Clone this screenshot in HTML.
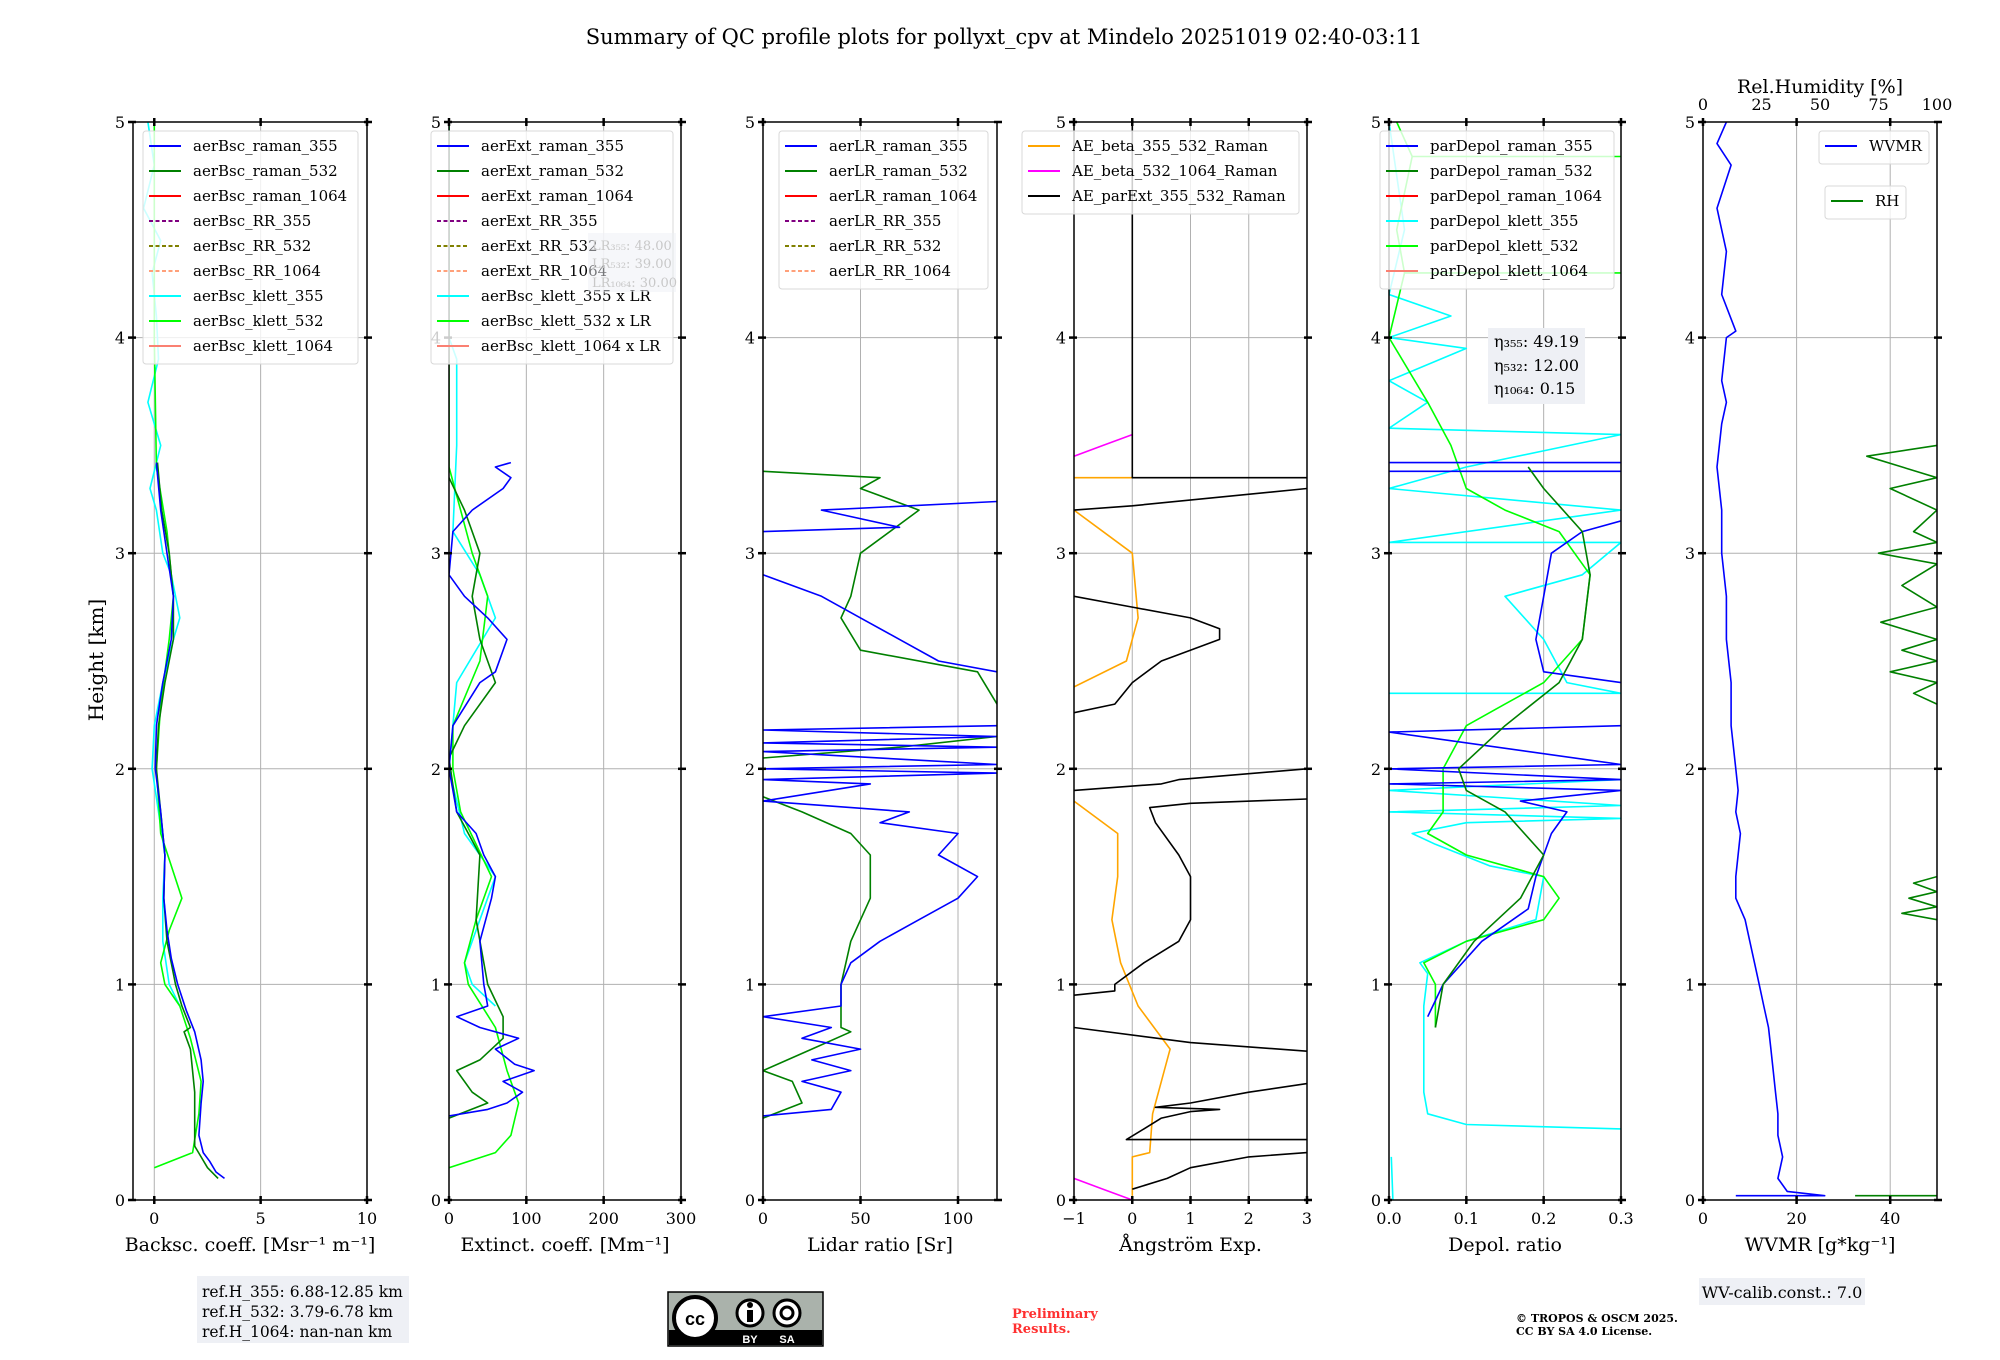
<!DOCTYPE html>
<html><head><meta charset="utf-8">
<style>
html,body{margin:0;padding:0;background:#fff;}
svg{display:block;font-family:"DejaVu Serif","Liberation Serif",serif;}
</style></head>
<body>
<svg id="fig" width="2000" height="1360" viewBox="0 0 2000 1360" xmlns="http://www.w3.org/2000/svg">
<rect width="2000" height="1360" fill="#fff"/>
<text x="1004" y="44" font-size="21" text-anchor="middle">Summary of QC profile plots for pollyxt_cpv at Mindelo 20251019 02:40-03:11</text>
<text transform="translate(103,660) rotate(-90)" font-size="20" text-anchor="middle">Height [km]</text>
<g id="plots"></g>
<g>
<rect x="197" y="1276" width="212" height="67" fill="#eef0f5"/>
<text x="202" y="1297" font-size="15.5">ref.H_355: 6.88-12.85 km</text>
<text x="202" y="1317" font-size="15.5">ref.H_532: 3.79-6.78 km</text>
<text x="202" y="1337" font-size="15.5">ref.H_1064: nan-nan km</text>
</g>
<g>
<rect x="668" y="1292" width="155" height="54" fill="#aab2ab" stroke="#000" stroke-width="1.5"/>
<rect x="669" y="1330" width="153" height="15" fill="#000"/>
<circle cx="695" cy="1318" r="21" fill="#fff" stroke="#000" stroke-width="4"/>
<text x="695" y="1325" font-size="18" font-weight="bold" text-anchor="middle" font-family="Liberation Sans, sans-serif">cc</text>
<circle cx="750" cy="1313" r="13" fill="#fff" stroke="#000" stroke-width="3"/>
<rect x="747" y="1310" width="6" height="12" fill="#000"/><circle cx="750" cy="1305" r="3" fill="#000"/>
<circle cx="787" cy="1313" r="13" fill="#fff" stroke="#000" stroke-width="3"/>
<circle cx="787" cy="1313" r="6" fill="none" stroke="#000" stroke-width="3"/>
<text x="750" y="1343" font-size="11" fill="#fff" font-weight="bold" text-anchor="middle" font-family="Liberation Sans, sans-serif">BY</text>
<text x="787" y="1343" font-size="11" fill="#fff" font-weight="bold" text-anchor="middle" font-family="Liberation Sans, sans-serif">SA</text>
</g>
<text x="1012" y="1318" font-size="13" font-weight="bold" fill="#ff3030">Preliminary</text>
<text x="1012" y="1333" font-size="13" font-weight="bold" fill="#ff3030">Results.</text>
<text x="1516" y="1322" font-size="11" font-weight="bold">© TROPOS &amp; OSCM 2025.</text>
<text x="1516" y="1335" font-size="11" font-weight="bold">CC BY SA 4.0 License.</text>
<g>
<rect x="1699" y="1278" width="166" height="27" fill="#eef0f5"/>
<text x="1782" y="1298" font-size="16" text-anchor="middle">WV-calib.const.: 7.0</text>
</g>
</svg>
<script>
// ---------- data (value, height km); null = gap ----------
const yTicks=[0,1,2,3,4,5];
const bscTicks=[0,5,10];
const extTicks=[0,100,200,300];
const lrTicks=[0,50,100];
const aeTicks=[-1,0,1,2,3];
const aeTickLabels=["\u22121","0","1","2","3"];
const depTicks=[0,0.1,0.2,0.3];
const depTickLabels=["0.0","0.1","0.2","0.3"];
const wvTicks=[0,20,40];
const rhTicks=[0,25,50,75,100];

const bscRaman355=[[3.3,0.1],[2.9,0.13],[2.6,0.18],[2.3,0.22],[2.1,0.3],[2.2,0.45],[2.3,0.55],[2.2,0.65],[1.9,0.78],[1.5,0.88],[1.1,1.0],[0.8,1.12],[0.6,1.25],[0.45,1.4],[0.5,1.6],[0.3,1.8],[0.05,2.0],[0.1,2.2],[0.4,2.4],[0.8,2.6],[0.9,2.8],[0.6,3.0],[0.3,3.2],[0.1,3.42]];
const bscRaman532=[[3.0,0.1],[2.5,0.15],[2.2,0.2],[1.9,0.25],[1.9,0.5],[1.7,0.7],[1.4,0.78],[1.7,0.8],[1.3,0.9],[1.0,1.0],[0.6,1.2],[0.45,1.4],[0.5,1.6],[0.3,1.8],[0.1,2.0],[0.2,2.2],[0.5,2.4],[0.9,2.6],[0.9,2.8],[0.7,3.0],[0.35,3.2],[0.15,3.42]];
const bscKlett355=[[1.2,0.9],[0.7,1.0],[0.4,1.2],[0.4,1.4],[0.5,1.6],[0.2,1.8],[-0.1,2.0],[0.0,2.2],[0.4,2.4],[0.9,2.6],[1.2,2.7],[0.8,2.9],[0.4,3.0],[0.1,3.2],[-0.2,3.3],[0.3,3.5],[-0.3,3.7],[0.2,3.9],[0.1,4.1],[-0.1,4.3],[0.3,4.45],[-0.5,4.6],[0.0,4.8],[-0.3,5.0]];
const bscKlett532=[[0,0.15],[1.8,0.22],[2.1,0.4],[2.2,0.55],[1.7,0.75],[1.2,0.9],[0.5,1.0],[0.3,1.1],[0.7,1.25],[1.3,1.4],[0.9,1.52],[0.3,1.7],[0.1,2.0],[0.3,2.3],[0.7,2.6],[0.9,2.8],[0.6,3.1],[0.1,3.4],[0.0,4.0],[0.0,5.0]];

const extRaman355=[[0,0.39],[50,0.42],[75,0.45],[95,0.5],[70,0.55],[110,0.6],[85,0.63],[60,0.7],[90,0.75],[40,0.8],[10,0.85],[50,0.9],[45,1.0],[40,1.2],[55,1.4],[60,1.5],[45,1.6],[35,1.7],[10,1.8],[5,1.9],[0,2.0],[5,2.2],[40,2.4],[60,2.45],[75,2.6],[50,2.7],[20,2.8],[0,2.9],[5,3.1],[30,3.2],[70,3.3],[80,3.35],[60,3.4],[80,3.42]];
const extRaman532=[[0,0.38],[50,0.45],[30,0.5],[10,0.6],[40,0.65],[70,0.75],[70,0.85],[50,1.0],[35,1.3],[40,1.6],[10,1.8],[0,2.05],[20,2.2],[60,2.4],[40,2.6],[30,2.8],[40,3.0],[20,3.2],[0,3.35]];
const extKlett355=[[60,0.9],[30,1.0],[20,1.1],[40,1.3],[60,1.5],[20,1.7],[0,2.0],[10,2.4],[60,2.7],[40,2.9],[5,3.1],[10,3.5],[10,3.9],[0,4.0],[0,5.0]];
const extKlett532=[[0,0.15],[60,0.22],[80,0.3],[90,0.45],[75,0.6],[60,0.8],[25,1.0],[20,1.1],[35,1.3],[55,1.5],[15,1.8],[5,2.0],[5,2.2],[40,2.5],[50,2.8],[30,3.0],[0,3.4],[0,5.0]];

const lrRaman355=[[0,0.39],[35,0.42],[40,0.5],[20,0.55],[45,0.6],[25,0.65],[50,0.7],[20,0.75],[35,0.8],[0,0.85],[40,0.9],[40,1.0],[45,1.1],[60,1.2],[80,1.3],[100,1.4],[110,1.5],[90,1.6],[100,1.7],[60,1.75],[75,1.8],[0,1.85],[55,1.93],[0,1.95],[120,1.98],[0,2.0],[120,2.02],[0,2.08],[120,2.1],[0,2.12],[120,2.15],[0,2.18],[120,2.2],null,[120,2.45],[90,2.5],[70,2.6],[50,2.7],[30,2.8],[0,2.9],null,[0,3.1],[70,3.12],[30,3.2],[120,3.24]];
const lrRaman532=[[0,0.38],[20,0.45],[15,0.55],[0,0.6],[25,0.7],[45,0.78],[40,0.8],[40,1.0],[45,1.2],[55,1.4],[55,1.6],[45,1.7],[20,1.8],[0,1.87],null,[0,2.05],[70,2.1],[120,2.15],null,[120,2.3],[110,2.45],[50,2.55],[40,2.7],[45,2.8],[50,3.0],[80,3.2],[50,3.3],[60,3.35],[0,3.38]];

const aeBeta355532=[[0,0.02],[0,0.2],[0.3,0.22],[0.35,0.4],[0.65,0.7],[0.1,0.9],[-0.2,1.1],[-0.35,1.3],[-0.25,1.5],[-0.25,1.7],[-1,1.85],null,[-1,2.38],[-0.1,2.5],[0.1,2.7],[0,3.0],[-1,3.2],null,[-1,3.35],[0,3.35]];
const aeBeta5321064=[[0,0],[-0.5,0.05],[-1,0.1],null,[-1,3.45],[-0.5,3.5],[0,3.55]];
const aeParExt=[[0,0.05],[0.6,0.1],[1,0.15],[2,0.2],[3,0.22],null,[3,0.28],[-0.1,0.28],[0.2,0.33],[0.5,0.38],[1.0,0.41],[1.5,0.42],[0.4,0.43],[1.0,0.45],[2.0,0.5],[3,0.54],null,[3,0.69],[1,0.73],[-1,0.8],null,[-1,0.95],[-0.3,0.97],[-0.3,1.0],[0.2,1.1],[0.8,1.2],[1.0,1.3],[1.0,1.5],[0.8,1.6],[0.4,1.75],[0.3,1.82],[1,1.84],[3,1.86],null,[-1,1.9],[0.5,1.93],[0.8,1.95],[3,2.0],null,[-1,2.26],[-0.3,2.3],[0,2.4],[0.5,2.5],[1.5,2.6],[1.5,2.65],[1,2.7],[0,2.75],[-1,2.8],null,[-1,3.2],[0,3.22],[3,3.3],null,[3,3.35],[0,3.35],[0,5.0]];

const depRaman355=[[0.05,0.85],[0.07,1.0],[0.12,1.2],[0.18,1.35],[0.19,1.5],[0.21,1.7],[0.23,1.8],[0.17,1.85],[0.3,1.9],[0,1.93],[0.3,1.95],[0,2.0],[0.3,2.02],[0,2.17],[0.3,2.2],null,[0.3,2.4],[0.2,2.45],[0.19,2.6],[0.2,2.8],[0.21,3.0],[0.25,3.1],[0.3,3.15],null,[0,3.38],[0.3,3.38],null,[0,3.42],[0.3,3.42]];
const depRaman532=[[0.06,0.8],[0.07,1.0],[0.11,1.2],[0.17,1.4],[0.2,1.6],[0.15,1.8],[0.1,1.9],[0.09,2.0],[0.15,2.2],[0.22,2.4],[0.25,2.6],[0.26,2.9],[0.25,3.1],[0.2,3.3],[0.18,3.4]];
const depKlett355=[[0.005,0],[0.003,0.2],null,[0.3,0.33],[0.1,0.35],[0.05,0.4],[0.045,0.5],[0.045,0.9],[0.05,1.05],[0.04,1.1],[0.1,1.2],[0.19,1.3],[0.2,1.5],[0.13,1.55],[0.06,1.65],[0.03,1.7],[0.1,1.75],[0.3,1.77],[0,1.8],[0.3,1.83],[0,1.9],[0.3,1.95],null,[0,2.35],[0.3,2.35],[0.23,2.4],[0.2,2.6],[0.15,2.8],[0.25,2.9],[0.3,3.05],[0,3.05],[0.3,3.2],[0,3.3],[0.1,3.4],[0.3,3.55],[0,3.58],[0.05,3.7],[0,3.8],[0.1,3.95],[0,4.0],[0.08,4.1],[0,4.2],[0.02,4.5],[0,5.0]];
const depKlett532=[[0.06,0.8],[0.06,1.0],[0.045,1.1],[0.1,1.2],[0.2,1.3],[0.22,1.4],[0.2,1.5],[0.1,1.6],[0.05,1.7],[0.07,1.8],[0.07,2.0],[0.1,2.2],[0.15,2.3],[0.2,2.4],[0.25,2.6],[0.26,2.9],[0.22,3.1],[0.15,3.2],[0.1,3.3],[0.08,3.5],[0.05,3.7],[0.0,4.0],[0.02,4.3],[0.3,4.3],[0.02,4.3],[0.01,4.5],[0.03,4.84],[0.3,4.84],[0.03,4.84],[0.01,5.0]];

const wvmr=[[7,0.02],[26,0.02],[18,0.04],[16,0.1],[17,0.2],[16,0.3],[16,0.4],[15.5,0.5],[15,0.6],[14.5,0.7],[14,0.8],[13,0.9],[12,1.0],[11,1.1],[10,1.2],[9,1.3],[7,1.4],[7,1.5],[7.5,1.6],[8,1.7],[7,1.8],[7.5,1.9],[7,2.0],[6,2.2],[6,2.4],[5,2.6],[5,2.8],[4,3.0],[4,3.2],[3,3.4],[4,3.6],[5,3.7],[4,3.8],[5,4.0],[7,4.03],[4,4.2],[5,4.4],[3,4.6],[6,4.8],[3,4.9],[5,5.0]];
const rhValues=[[65,0.02],[100,0.02],null,[100,1.3],[85,1.33],[100,1.36],[88,1.4],[100,1.43],[90,1.47],[100,1.5],null,[100,2.3],[90,2.35],[100,2.4],[80,2.45],[100,2.5],[85,2.55],[100,2.6],[76,2.68],[100,2.75],[85,2.85],[100,2.95],[75,3.0],[100,3.05],[90,3.1],[100,3.2],[80,3.3],[100,3.35],[70,3.45],[100,3.5]];

// ---------- layout ----------
const Y0=1200, KM=215.6;
function yPx(h){return Y0-h*KM;}
const NS="http://www.w3.org/2000/svg";
const root=document.getElementById('plots');
function mk(tag,attrs,parent){const e=document.createElementNS(NS,tag);for(const k in attrs)e.setAttribute(k,attrs[k]);(parent||root).appendChild(e);return e;}
function xFn(p){return v=>p.x0+(v-p.min)/(p.max-p.min)*p.w;}

const panels=[
 {name:'backscatter',x0:133,w:234,min:-1,max:10,ticks:bscTicks,labels:null,label:'Backsc. coeff. [Msr\u207B\u00B9 m\u207B\u00B9]'},
 {name:'extinction',x0:449,w:232,min:0,max:300,ticks:extTicks,labels:null,label:'Extinct. coeff. [Mm\u207B\u00B9]'},
 {name:'lidar-ratio',x0:763,w:234,min:0,max:120,ticks:lrTicks,labels:null,label:'Lidar ratio [Sr]'},
 {name:'angstrom',x0:1074,w:233,min:-1,max:3,ticks:aeTicks,labels:aeTickLabels,label:'\u00C5ngstr\u00F6m Exp.'},
 {name:'depol',x0:1389,w:232,min:0,max:0.3,ticks:depTicks,labels:depTickLabels,label:'Depol. ratio'},
 {name:'wvmr',x0:1703,w:234,min:0,max:50,ticks:wvTicks,labels:null,label:'WVMR [g*kg\u207B\u00B9]'}
];

function drawSeries(g,p,data,color,name,wd){
 const X=xFn(p);let d='',pen=false;
 data.forEach(pt=>{if(!pt){pen=false;return;}d+=(pen?'L':'M')+X(pt[0]).toFixed(1)+' '+yPx(pt[1]).toFixed(1);pen=true;});
 const e=mk('path',{d:d,fill:'none',stroke:color,'stroke-width':wd||1.6,'stroke-linejoin':'round'},g);
 
 
}

panels.forEach((p,i)=>{
 const g=mk('g',{});
 
 
 const X=xFn(p);
 const cp=mk('clipPath',{id:'cp'+i},g);
 mk('rect',{x:p.x0,y:yPx(5),width:p.w,height:5*KM},cp);
 const gg=mk('g',{stroke:'#b0b0b0','stroke-width':1},g);
 
 
 p.ticks.forEach(t=>{mk('line',{x1:X(t),x2:X(t),y1:yPx(0),y2:yPx(5)},gg);});
 yTicks.forEach(t=>{mk('line',{x1:p.x0,x2:p.x0+p.w,y1:yPx(t),y2:yPx(t)},gg);});
 const sg=mk('g',{'clip-path':'url(#cp'+i+')'},g);
 
 
 if(i===0){drawSeries(sg,p,bscKlett355,'#00ffff','aerBsc-klett-355');drawSeries(sg,p,bscKlett532,'#00ff00','aerBsc-klett-532');drawSeries(sg,p,bscRaman532,'#008000','aerBsc-raman-532');drawSeries(sg,p,bscRaman355,'#0000ff','aerBsc-raman-355');}
 if(i===1){drawSeries(sg,p,extKlett355,'#00ffff','aerBsc-klett-355-lr');drawSeries(sg,p,extKlett532,'#00ff00','aerBsc-klett-532-lr');drawSeries(sg,p,extRaman532,'#008000','aerExt-raman-532');drawSeries(sg,p,extRaman355,'#0000ff','aerExt-raman-355');}
 if(i===2){drawSeries(sg,p,lrRaman532,'#008000','aerLR-raman-532');drawSeries(sg,p,lrRaman355,'#0000ff','aerLR-raman-355');}
 if(i===3){drawSeries(sg,p,aeBeta355532,'#ffa500','ae-beta-355-532');drawSeries(sg,p,aeBeta5321064,'#ff00ff','ae-beta-532-1064');drawSeries(sg,p,aeParExt,'#000000','ae-parext-355-532');}
 if(i===4){drawSeries(sg,p,depKlett355,'#00ffff','parDepol-klett-355');drawSeries(sg,p,depKlett532,'#00ff00','parDepol-klett-532');drawSeries(sg,p,depRaman355,'#0000ff','parDepol-raman-355');drawSeries(sg,p,depRaman532,'#008000','parDepol-raman-532');}
 if(i===5){drawSeries(sg,p,wvmr,'#0000ff','wvmr-line');const rp={x0:p.x0,w:p.w,min:0,max:100};drawSeries(sg,rp,rhValues,'#008000','rh-line');}
 mk('rect',{x:p.x0,y:yPx(5),width:p.w,height:5*KM,fill:'none',stroke:'#000','stroke-width':1.5},g);
 const tg=mk('g',{stroke:'#000','stroke-width':2.5},g);
 
 
 p.ticks.forEach(t=>{mk('line',{x1:X(t),x2:X(t),y1:yPx(0)-4,y2:yPx(0)+4},tg);mk('line',{x1:X(t),x2:X(t),y1:yPx(5)-4,y2:yPx(5)+4},tg);});
 yTicks.forEach(t=>{mk('line',{x1:p.x0-5,x2:p.x0+3,y1:yPx(t),y2:yPx(t)},tg);mk('line',{x1:p.x0+p.w-3,x2:p.x0+p.w+5,y1:yPx(t),y2:yPx(t)},tg);});
 p.ticks.forEach((t,k)=>{const e=mk('text',{x:X(t),y:yPx(0)+24,'font-size':16,'text-anchor':'middle'},g);e.textContent=p.labels?p.labels[k]:String(t);
  
  });
 yTicks.forEach(t=>{const e=mk('text',{x:p.x0-8,y:yPx(t)+6,'font-size':16,'text-anchor':'end'},g);e.textContent=String(t);
  
  });
 const xl=mk('text',{x:p.x0+p.w/2,y:1251,'font-size':19,'text-anchor':'middle'},g);xl.textContent=p.label;
 
 
});

(function(){const p={x0:1703,w:234,min:0,max:100};const X=xFn(p);
 rhTicks.forEach(t=>{const e=mk('text',{x:X(t),y:110,'font-size':16,'text-anchor':'middle'});e.textContent=String(t);
  
  });
 const l=mk('text',{x:1820,y:93,'font-size':19,'text-anchor':'middle'});l.textContent='Rel.Humidity [%]';
 
 
})();

function legend(name,x,y,w,entries,textX){
 const g=mk('g',{});
 
 
 mk('rect',{x:x,y:y,width:w,height:entries.length*25+8,rx:3,fill:'rgba(255,255,255,0.8)',stroke:'#d8d8d8'},g);
 entries.forEach((en,k)=>{const cy=y+15+k*25;
  mk('line',{x1:x+6,x2:x+38,y1:cy,y2:cy,stroke:en[1],'stroke-width':2,'stroke-dasharray':en[2]?'4,2.5':'none'},g);
  const t=mk('text',{x:x+(textX||50),y:cy+5,'font-size':15},g);t.textContent=en[0];
  
  });
}
legend('backscatter-legend',143,131,215,[['aerBsc_raman_355','#0000ff'],['aerBsc_raman_532','#008000'],['aerBsc_raman_1064','#ff0000'],['aerBsc_RR_355','#800080',1],['aerBsc_RR_532','#808000',1],['aerBsc_RR_1064','#ffa07a',1],['aerBsc_klett_355','#00ffff'],['aerBsc_klett_532','#00ff00'],['aerBsc_klett_1064','#fa8072']]);
legend('extinction-legend',431,131,242,[['aerExt_raman_355','#0000ff'],['aerExt_raman_532','#008000'],['aerExt_raman_1064','#ff0000'],['aerExt_RR_355','#800080',1],['aerExt_RR_532','#808000',1],['aerExt_RR_1064','#ffa07a',1],['aerBsc_klett_355 x LR','#00ffff'],['aerBsc_klett_532 x LR','#00ff00'],['aerBsc_klett_1064 x LR','#fa8072']]);
legend('lidar-ratio-legend',779,131,209,[['aerLR_raman_355','#0000ff'],['aerLR_raman_532','#008000'],['aerLR_raman_1064','#ff0000'],['aerLR_RR_355','#800080',1],['aerLR_RR_532','#808000',1],['aerLR_RR_1064','#ffa07a',1]]);
legend('angstrom-legend',1022,131,277,[['AE_beta_355_532_Raman','#ffa500'],['AE_beta_532_1064_Raman','#ff00ff'],['AE_parExt_355_532_Raman','#000000']]);
legend('depol-legend',1380,131,234,[['parDepol_raman_355','#0000ff'],['parDepol_raman_532','#008000'],['parDepol_raman_1064','#ff0000'],['parDepol_klett_355','#00ffff'],['parDepol_klett_532','#00ff00'],['parDepol_klett_1064','#fa8072']]);
legend('wvmr-legend',1819,131,110,[['WVMR','#0000ff']]);
legend('rh-legend',1825,186,81,[['RH','#008000']]);

(function(){const g=mk('g',{});
 
 
 mk('rect',{x:588,y:233,width:88,height:59,fill:'rgba(238,240,245,0.5)'},g);
 [['LR\u2083\u2085\u2085: 48.00',250],['LR\u2085\u2083\u2082: 39.00',268],['LR\u2081\u2080\u2086\u2084: 30.00',287]].forEach(a=>{const t=mk('text',{x:592,y:a[1],'font-size':13,fill:'#c8c8c8'},g);t.textContent=a[0];});
})();
(function(){const g=mk('g',{});
 
 
 mk('rect',{x:1488,y:328,width:97,height:76,fill:'#eef0f5'},g);
 [['\u03B7\u2083\u2085\u2085: 49.19',347],['\u03B7\u2085\u2083\u2082: 12.00',371],['\u03B7\u2081\u2080\u2086\u2084: 0.15',394]].forEach(a=>{const t=mk('text',{x:1494,y:a[1],'font-size':16},g);t.textContent=a[0];});
})();
</script>
</body></html>
